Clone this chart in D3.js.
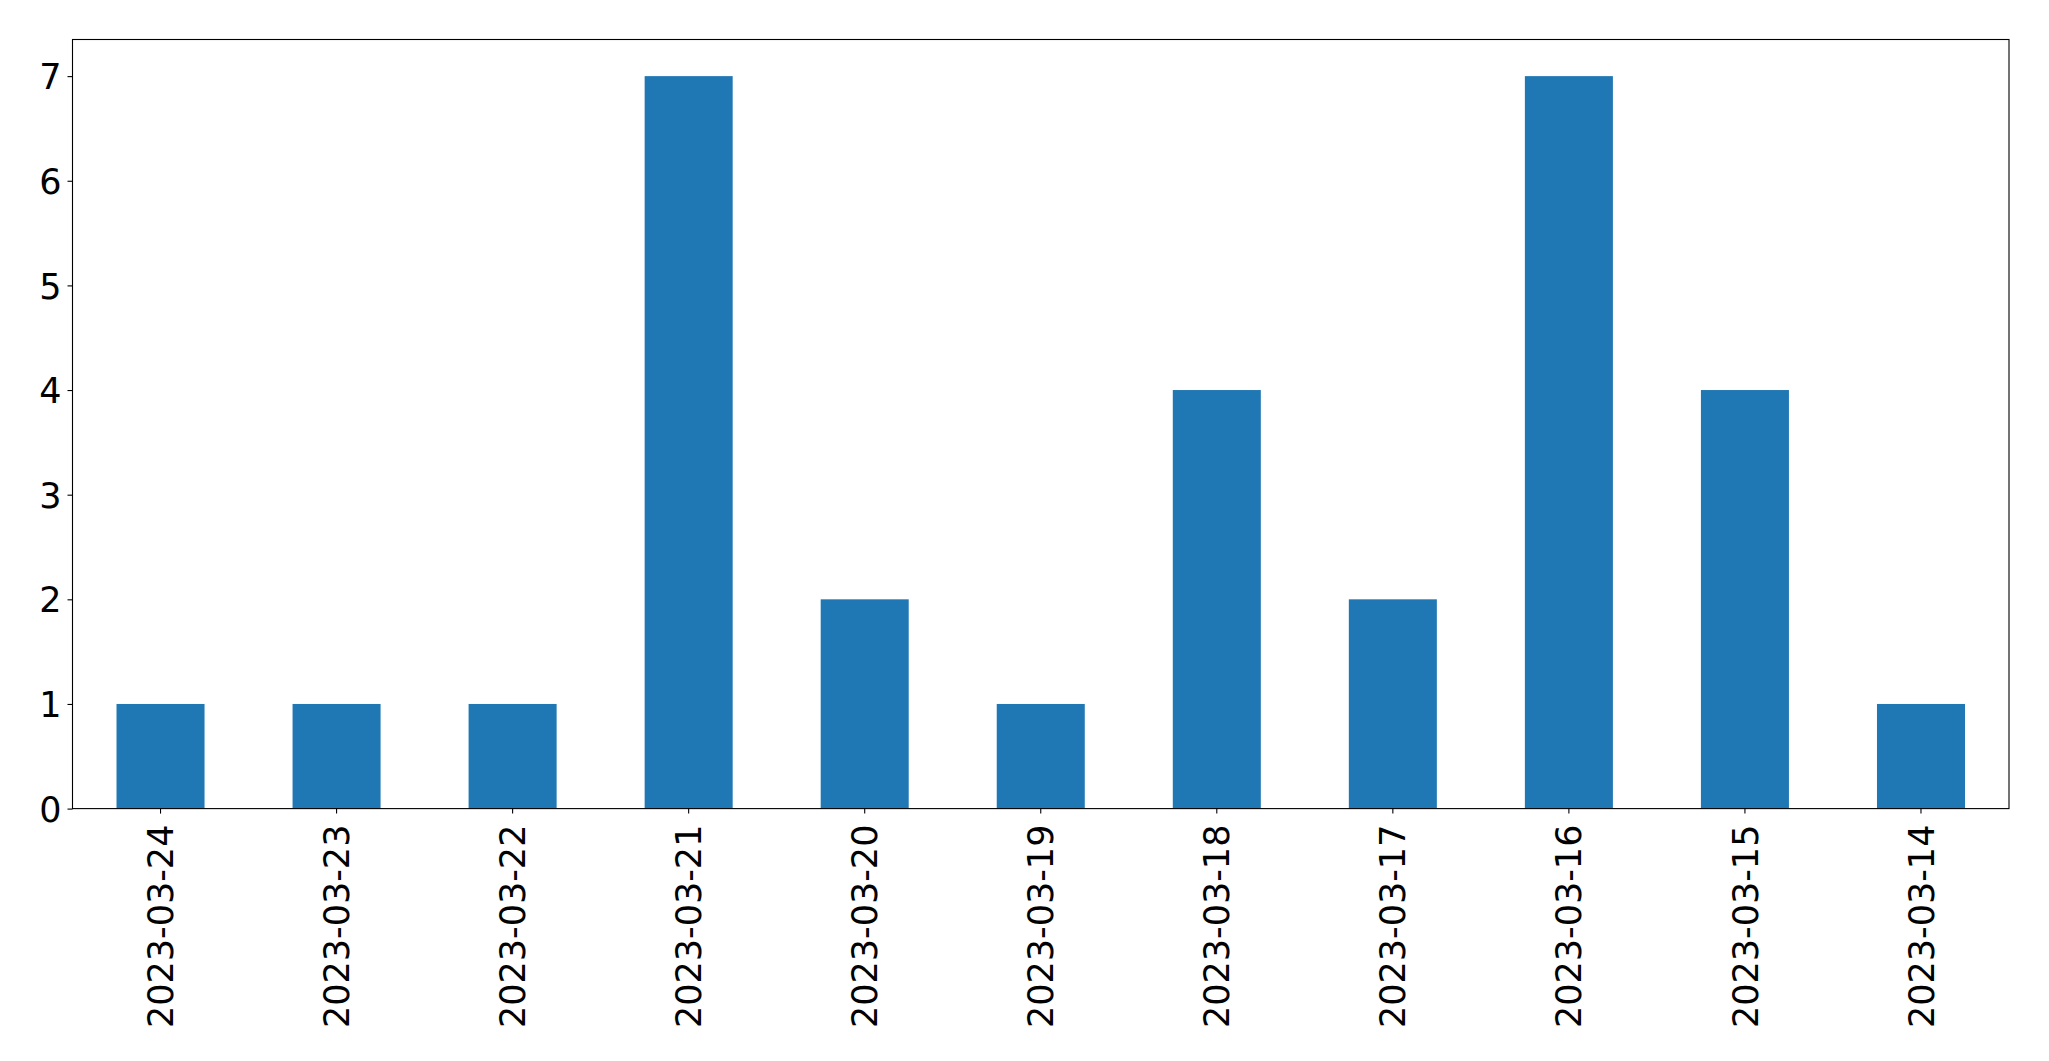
<!DOCTYPE html>
<html>
<head>
<meta charset="utf-8">
<script src="https://cdn.jsdelivr.net/npm/d3@7"></script>
<style>
html,body{margin:0;padding:0;background:#fff;}
svg{display:block;}
</style>
</head>
<body>
<svg id="chart" width="2049" height="1061"></svg>
<script>
const categories = ["2023-03-24","2023-03-23","2023-03-22","2023-03-21","2023-03-20","2023-03-19","2023-03-18","2023-03-17","2023-03-16","2023-03-15","2023-03-14"];
const values = [1,1,1,7,2,1,4,2,7,4,1];
const yTicks = [0,1,2,3,4,5,6,7];

const margin = {left:72.5, right:2049-2009, top:39.5, bottom:1061-808.6};
const W = 2049, H = 1061;
const svg = d3.select("#chart");
const iw = W - margin.left - margin.right;
const ih = H - margin.top - margin.bottom;
const g = svg.append("g").attr("transform", `translate(${margin.left},${margin.top})`);

const x = d3.scaleBand().domain(categories).range([0, iw]).paddingInner(0.5).paddingOuter(0.25);
const y = d3.scaleLinear().domain([0, d3.max(values)*1.05]).range([ih, 0]);

g.selectAll("rect.bar").data(values).enter().append("rect")
  .attr("class","bar")
  .attr("x",(d,i)=>x(categories[i]))
  .attr("width", x.bandwidth())
  .attr("y", d=>y(d))
  .attr("height", d=>ih - y(d))
  .attr("fill","#1f77b4");

const font = "'DejaVu Sans', sans-serif";
const fs = 35;

const yAxis = g.append("g").call(d3.axisLeft(y).tickValues(yTicks).tickFormat(d3.format("d")).tickSize(5).tickPadding(6));
yAxis.select(".domain").remove();
yAxis.selectAll("line").attr("stroke","#000").attr("stroke-width",1.1);
yAxis.selectAll("text").attr("font-family",font).attr("font-size",fs).attr("fill","#000").attr("dy","0.36em");

const xAxis = g.append("g").attr("transform",`translate(0,${ih})`).call(d3.axisBottom(x).tickSize(5).tickPadding(6));
xAxis.select(".domain").remove();
xAxis.selectAll("line").attr("stroke","#000").attr("stroke-width",1.1);
xAxis.selectAll("text")
  .attr("font-family",font).attr("font-size",fs).attr("fill","#000")
  .attr("transform","rotate(-90)")
  .attr("x",-16).attr("y",0).attr("dy","0.36em")
  .attr("text-anchor","end");

g.append("rect").attr("x",0).attr("y",0).attr("width",iw).attr("height",ih)
  .attr("fill","none").attr("stroke","#000").attr("stroke-width",1.1);
</script>
</body>
</html>
